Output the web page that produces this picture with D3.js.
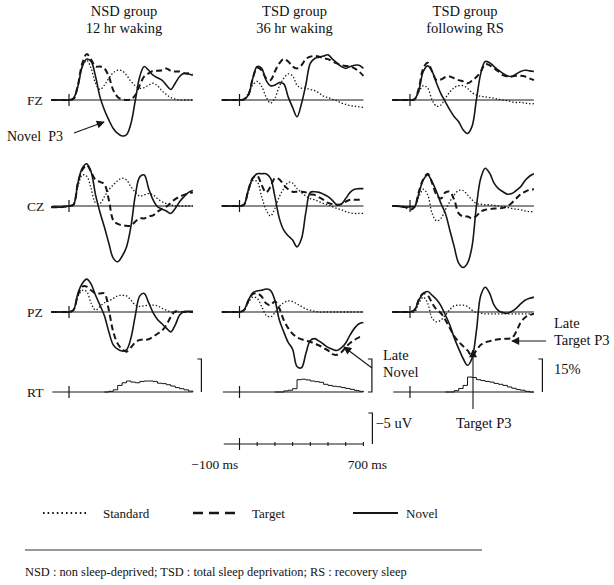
<!DOCTYPE html>
<html>
<head>
<meta charset="utf-8">
<script src="https://cdn.jsdelivr.net/npm/d3@7"></script>
<style>
  body { margin: 0; background: #fff; }
  svg text { font-family: "Liberation Serif", "Times New Roman", serif; fill: #111; white-space: pre; }
</style>
</head>
<body>
<svg id="chart" width="614" height="585"></svg>
<script>
// sample times (ms) for every waveform
var times = [-100,-75,-50,-25,0,25,50,75,100,125,150,175,200,225,250,275,300,325,350,375,400,425,450,475,500,525,550,575,600,625,650,675,700];

// waveforms in uV (negative plotted upward, as in the original)
var nsdFzStandard = [0,0,0,0, 0,-0.15,-2.15,-5.4,-6.4,-5.1,-2.7,-1.7,-2.4,-3.5, -4.4,-4.8,-4.7,-4.0,-3.0,-2.3,-1.9,-2.0,-2.4,-2.7, -2.3,-1.5,-0.9,-0.4,-0.15,0,0,0,0];
var nsdFzTarget   = [0,0,0,0, 0,-0.15,-2.4,-5.9,-7.4,-6.5,-5.4,-5.4,-5.1,-3.8, -1.6,-0.5,-0.1,0,-0.1,-0.8,-2.4,-3.8,-4.3,-4.7, -4.7,-4.8,-5.1,-4.7,-4.6,-4.6,-4.3,-4.3,-4.2];
var nsdFzNovel    = [0,0,0,0, 0,-0.3,-2.2,-5.4,-6.6,-6.2,-3.8,-0.5,1.6,3.2, 4.6,5.4,5.8,5.6,3.8,0,-3.8,-5.4,-4.8,-4.0, -3.6,-3.2,-2.4,-1.7,-2.7,-3.8,-4.3,-4.2,-4.0];

var nsdCzStandard = [0.1,0.1,0.1,0.1, 0,-0.2,-3.1,-5.0,-4.8,-2.8,-0.5,-0.4,-1.5,-2.6, -3.4,-4.1,-4.5,-4.2,-3.1,-2.2,-1.6,-1.8,-2.0,-1.8, -1.2,-0.7,-0.4,-0.2,0,0,0,0,0];
var nsdCzTarget   = [0.2,0.2,0.2,0.1, 0,-0.2,-3.7,-5.8,-6.6,-5.5,-4.2,-3.9,-3.5,-1.0, 2.3,2.9,3.1,3.2,3.2,2.5,2.0,2.0,1.7,1.5, 0.9,0.5,0.1,-0.5,-1.1,-1.5,-1.8,-2.0,-2.2];
var nsdCzNovel    = [0.2,0.2,0.2,0.1, 0,-0.2,-3.7,-6.1,-6.8,-5.5,-1.8,1.0,3.4,6.0, 8.4,9.0,8.1,6.6,3.3,-1.8,-4.7,-5.0,-2.8,-1.0, 0.1,0.5,0.8,1.2,0.4,-0.7,-1.5,-2.2,-2.5];

var nsdPzStandard = [0,0,0,0, 0,-0.3,-2.5,-3.5,-3.3,-1.4,-0.3,-0.9,-1.5,-1.8, -2.2,-2.6,-2.7,-2.6,-1.9,-1.1,-0.9,-1.0,-1.1,-1.1, -1.0,-0.6,-0.3,0,0,0,0,0,0];
var nsdPzTarget   = [0,0,0,0, 0,-0.3,-2.7,-4.1,-4.1,-3.5,-3.0,-3.0,-3.0,-0.3, 3.2,5.1,6.0,6.4,5.7,4.9,4.5,4.5,4.4,4.0, 3.5,3.0,2.1,0.8,-0.1,0,0,0,0];
var nsdPzNovel    = [0,0,0,0, 0,-0.3,-3.0,-4.6,-5.3,-4.5,-2.7,-1.1,0.6,3.2, 5.3,6.0,6.3,6.1,4.2,0.5,-2.6,-3.0,-1.5,0.1, 1.2,1.9,2.6,3.2,2.1,0.5,-0.1,-0.1,-0.1];

var tsdFzStandard = [0,0,0,0, 0,-0.1,-1.1,-2.4,-3.0,-2.2,-0.5,0.5,-0.3,-2.2, -3.5,-4.2,-3.9,-2.4,-1.9,-1.9,-1.7,-1.5,-1.1,-0.6, -0.4,-0.1,0.1,0.5,0.7,0.9,1.0,1.1,1.2];
var tsdFzTarget   = [0,0,0,0, 0,-0.1,-0.8,-3.5,-5.2,-4.8,-3.5,-3.2,-4.6,-5.9, -6.6,-6.2,-5.4,-5.1,-5.6,-6.6,-7.0,-7.1,-7.0,-6.7, -6.6,-6.2,-5.9,-5.6,-5.5,-5.4,-5.1,-4.6,-3.9];
var tsdFzNovel    = [0,0,0,0, 0,-0.1,-0.8,-3.5,-5.4,-5.1,-3.2,-2.3,-2.4,-2.8, -2.6,-0.5,1.2,2.7,0.6,-2.5,-5.9,-6.7,-6.9,-7.1, -7.3,-6.6,-6.0,-5.4,-5.1,-5.4,-5.6,-5.6,-5.1];

var tsdCzStandard = [0,0,0,0, 0,-0.2,-2.3,-4.1,-3.9,-1.5,0.6,1.6,0.4,-1.5, -2.8,-3.8,-3.7,-2.8,-2.2,-1.6,-1.2,-1.0,-0.7,-0.4, -0.2,0.1,0.4,0.6,0.9,1.1,1.2,1.2,1.2];
var tsdCzTarget   = [0,0,0,0, 0,-0.2,-2.6,-4.5,-4.9,-3.4,-2.2,-3.1,-4.5,-4.3, -3.4,-2.7,-2.3,-2.3,-2.3,-2.2,-1.9,-1.8,-1.4,-1.0, -0.5,-0.3,-0.2,-0.3,-0.7,-1.0,-1.0,-1.0,-1.0];
var tsdCzNovel    = [0,0,0,0, 0,-0.2,-2.6,-4.5,-5.2,-5.2,-5.2,-4.5,-1.5,2.0, 3.9,4.8,5.5,6.6,5.3,1.0,-2.2,-2.3,-2.2,-1.9, -1.5,-0.9,-0.2,-0.3,-1.2,-2.2,-2.7,-2.8,-2.8];

var tsdPzStandard = [0,0,0,0, 0,-0.2,-1.5,-2.4,-2.2,-0.9,0.5,0.8,0.1,-0.9, -1.5,-1.8,-1.7,-1.3,-0.9,-0.5,-0.3,-0.1,0,0, 0,0,0,0,0,0,0,0,0];
var tsdPzTarget   = [0,0,0,0, 0,-0.3,-1.8,-2.9,-3.0,-2.5,-1.4,-1.1,-1.7,-0.6, 1.3,2.6,3.5,4.1,4.4,4.6,4.8,5.1,5.4,5.8, 6.2,6.8,6.9,6.5,5.7,5.0,4.5,4.1,3.9];
var tsdPzNovel    = [0,0,0,0, 0,-0.3,-1.9,-3.1,-3.4,-3.5,-3.7,-3.5,-1.9,1.3, 3.2,4.9,6.0,8.8,9.0,6.7,4.6,4.3,4.7,5.2, 5.7,6.0,6.2,5.8,5.0,3.7,2.6,1.9,1.7];

var rsFzStandard  = [0,0,0,0, 0,-0.1,-1.3,-2.3,-1.9,0,1.0,0.8,-0.3,-1.3, -2.0,-2.3,-2.3,-1.9,-1.2,-0.8,-0.6,-0.5,-0.4,-0.3, -0.1,0,0.1,0.3,0.4,0.4,0.5,0.6,0.6];
var rsFzTarget    = [0,0,0,0, 0,-0.1,-1.9,-5.1,-6.0,-4.6,-3.2,-3.3,-3.7,-3.8, -3.5,-3.2,-3.0,-2.7,-3.1,-3.7,-4.6,-5.8,-5.6,-5.1, -4.6,-4.0,-3.8,-3.8,-3.9,-3.9,-3.8,-3.5,-3.2];
var rsFzNovel     = [0,0,0,0, 0,-0.1,-1.6,-4.6,-5.5,-4.6,-2.7,-1.0,0.3,1.6, 2.7,3.5,4.8,5.4,4.3,0,-4.3,-6.2,-6.0,-5.4, -4.8,-4.3,-3.9,-3.8,-4.2,-4.6,-4.8,-4.7,-4.6];

var rsCzStandard  = [0,0,0,0.1, 0.1,0,-1.5,-2.7,-1.8,1.2,2.4,2.0,0.6,-0.7, -1.8,-2.5,-2.5,-1.8,-1.0,-0.4,-0.3,-0.2,-0.2,-0.1, 0,0.1,0.2,0.4,0.5,0.6,0.8,0.9,0.9];
var rsCzTarget    = [0,0,0.1,0.2, 0.6,0.2,-2.3,-4.3,-5.2,-3.7,-1.8,-1.2,-2.2,-2.3, -1.0,1.2,1.7,1.7,2.0,1.6,0.9,0.6,0.5,0.4, 0.4,0.3,0,-0.5,-1.2,-1.9,-2.3,-2.6,-2.7];
var rsCzNovel     = [0,0,0.1,0.2, 0.1,0.1,-2.0,-4.2,-5.0,-3.9,-2.3,-0.4,1.2,3.9, 6.6,9.2,9.9,9.2,6.6,0.1,-4.5,-6.1,-5.3,-3.7, -2.8,-2.3,-1.9,-2.0,-2.5,-3.1,-4.1,-4.8,-5.2];

var rsPzStandard  = [0,0,0,0, 0,0,-1.4,-2.4,-1.4,1.0,1.6,1.3,0.5,-0.4, -1.0,-1.1,-1.1,-0.9,-0.3,0.1,0.2,0.3,0.3,0.3, 0.3,0.3,0.3,0.3,0.3,0.3,0.3,0.3,0.3];
var rsPzTarget    = [0,0,0,0, 0,-0.3,-2.0,-3.0,-2.7,-1.4,-0.4,0.2,1.3,2.6, 3.9,4.8,5.5,6.2,7.1,6.2,5.3,4.9,4.7,4.5, 4.4,4.3,4.3,4.2,3.2,1.7,0.9,0.5,0.3];
var rsPzNovel     = [0,0,0,0, 0,-0.3,-1.9,-3.0,-3.3,-2.7,-2.0,-1.0,0.5,2.1, 4.2,5.9,7.5,8.6,7.5,3.1,-2.7,-4.0,-3.0,-1.1, -0.2,0.1,0.2,-0.1,-0.6,-1.3,-1.9,-2.2,-2.4];

// reaction time histograms (% of responses per 25 ms bin)
var rtBins = [200,225,250,275,300,325,350,375,400,425,450,475,500,525,550,575,600,625,650,675,700];
var nsdRt = [0,0.3,1.0,3.0,4.2,5.0,4.5,4.2,4.8,5.0,5.0,4.8,4.0,3.8,3.3,2.7,2.0,1.5,1.0,0.4,0];
var tsdRt = [0,0,0.5,0.8,1.5,5.6,5.8,5.5,5.0,4.7,4.4,3.5,3.0,2.6,2.4,2.0,1.6,1.2,0.7,0.3,0];
var rsRt  = [0,0,0.6,1.6,3.0,6.8,6.6,5.6,5.2,4.8,4.5,3.9,3.5,3.0,2.3,1.7,1.1,0.8,0.3,0,0];

var groupTitles = [["NSD group", "12 hr waking"], ["TSD group", "36 hr waking"], ["TSD group", "following RS"]];
var sites = ["FZ", "CZ", "PZ"];
var conditions = ["Standard", "Target", "Novel"];
var scaleLabels = ["\u2212100 ms", "700 ms", "\u22125 uV", "15%"];
var footnote = "NSD : non sleep-deprived; TSD : total sleep deprivation; RS : recovery sleep";

var waves = [
    [[nsdFzStandard, nsdFzTarget, nsdFzNovel], [nsdCzStandard, nsdCzTarget, nsdCzNovel], [nsdPzStandard, nsdPzTarget, nsdPzNovel]],
    [[tsdFzStandard, tsdFzTarget, tsdFzNovel], [tsdCzStandard, tsdCzTarget, tsdCzNovel], [tsdPzStandard, tsdPzTarget, tsdPzNovel]],
    [[rsFzStandard, rsFzTarget, rsFzNovel], [rsCzStandard, rsCzTarget, rsCzNovel], [rsPzStandard, rsPzTarget, rsPzNovel]]
];
var rts = [nsdRt, tsdRt, rsRt];

// layout
var ink = "#161616";
var colZero = [69, 239.5, 410];     // x of stimulus onset in each column
var msPx = 0.177;                    // px per ms
var rowBase = [100, 206, 312];
var rtBase = 392;
var uvPx = 6.2;                      // px per uV
var styles = [
    { width: 1.3, dash: "1.4,2" },
    { width: 2, dash: "6,3.5" },
    { width: 1.6, dash: null }
];

var svg = d3.select("#chart");

var defs = svg.append("defs");
defs.append("marker")
    .attr("id", "head")
    .attr("viewBox", "0 0 10 10")
    .attr("refX", 9).attr("refY", 5)
    .attr("markerWidth", 10).attr("markerHeight", 8)
    .attr("markerUnits", "userSpaceOnUse")
    .attr("orient", "auto")
    .append("path")
    .attr("d", "M0,0L10,5L0,10Z")
    .attr("fill", ink);

function xFor(c) {
    return d3.scaleLinear().domain([-100, 700])
        .range([colZero[c] - 100 * msPx, colZero[c] + 700 * msPx]);
}
function yFor(base) {
    return d3.scaleLinear().domain([-5, 5]).range([base - 5 * uvPx, base + 5 * uvPx]);
}
var rtY = d3.scaleLinear().domain([0, 15]).range([rtBase, rtBase - 33]);

function baseline(g, x, y0) {
    g.append("line")
        .attr("x1", x(-100) + 1).attr("x2", x(700))
        .attr("y1", y0).attr("y2", y0)
        .attr("stroke", ink).attr("stroke-width", 1.1);
    g.append("line")
        .attr("x1", x(0)).attr("x2", x(0))
        .attr("y1", y0 - 6).attr("y2", y0 + 6)
        .attr("stroke", ink).attr("stroke-width", 1.2);
}

for (var c = 0; c < 3; c++) {
    var x = xFor(c);
    var g = svg.append("g");

    // titles
    g.selectAll("text.title")
        .data(groupTitles[c])
        .enter().append("text")
        .attr("class", "title")
        .attr("x", colZero[c] + 55)
        .attr("y", function (d, i) { return 16 + i * 17; })
        .attr("text-anchor", "middle")
        .style("font-size", "14.5px")
        .text(function (d) { return d; });

    for (var r = 0; r < 3; r++) {
        var y = yFor(rowBase[r]);
        baseline(g, x, rowBase[r]);
        var line = d3.line()
            .x(function (d, i) { return x(times[i]); })
            .y(function (d) { return y(d); })
            .curve(d3.curveCatmullRom.alpha(0.5));
        g.selectAll("path.w" + r)
            .data(waves[c][r])
            .enter().append("path")
            .attr("class", "w" + r)
            .attr("d", line)
            .attr("fill", "none")
            .attr("stroke", ink)
            .attr("stroke-linejoin", "round")
            .attr("stroke-width", function (d, i) { return styles[i].width; })
            .attr("stroke-dasharray", function (d, i) { return styles[i].dash; });
    }

    // RT histogram
    baseline(g, x, rtBase);
    var step = d3.line()
        .x(function (d, i) { return x(rtBins[i]); })
        .y(function (d) { return rtY(d); })
        .curve(d3.curveStepAfter);
    g.append("path")
        .attr("d", step(rts[c]))
        .attr("fill", "none")
        .attr("stroke", ink)
        .attr("stroke-width", 1);

    // 15% bracket
    var bx = x(700) + 8.5;
    g.append("path")
        .attr("d", "M" + (bx - 4) + "," + rtY(15) + "H" + bx + "V" + rtY(0) + (c === 1 ? "H" + (bx - 4) : ""))
        .attr("fill", "none")
        .attr("stroke", ink)
        .attr("stroke-width", 1.2);
}

// row labels
svg.selectAll("text.site")
    .data(sites.concat(["RT"]))
    .enter().append("text")
    .attr("class", "site")
    .attr("x", 27)
    .attr("y", function (d, i) { return (i < 3 ? rowBase[i] : rtBase) + 5; })
    .style("font-size", "13.5px")
    .text(function (d) { return d; });

// time and amplitude scale under the middle column
var xs = xFor(1);
var sy = 444;
var sg = svg.append("g");
sg.append("line")
    .attr("x1", xs(-100) + 2).attr("x2", xs(700))
    .attr("y1", sy).attr("y2", sy)
    .attr("stroke", ink).attr("stroke-width", 1.1);
sg.selectAll("line.tick")
    .data([0, 100, 200, 300, 400, 500, 600, 700])
    .enter().append("line")
    .attr("class", "tick")
    .attr("x1", function (d) { return xs(d); })
    .attr("x2", function (d) { return xs(d); })
    .attr("y1", function (d) { return d === 0 ? sy - 6 : sy - 2; })
    .attr("y2", function (d) { return d === 0 ? sy + 6 : sy + 2; })
    .attr("stroke", ink).attr("stroke-width", 1.1);
sg.append("text").attr("x", xs(-100) - 7).attr("y", sy + 25)
    .attr("text-anchor", "middle").style("font-size", "13.5px").text(scaleLabels[0]);
sg.append("text").attr("x", xs(700) + 4).attr("y", sy + 25)
    .attr("text-anchor", "middle").style("font-size", "13.5px").text(scaleLabels[1]);
var uy = yFor(sy);
sg.append("path")
    .attr("d", "M" + (xs(700) + 5) + "," + uy(-5) + "H" + (xs(700) + 9) + "V" + uy(0))
    .attr("fill", "none").attr("stroke", ink).attr("stroke-width", 1.2);
sg.append("text").attr("x", xs(700) + 12).attr("y", uy(-5) + 15)
    .style("font-size", "14.5px").text(scaleLabels[2]);

// annotations
function arrow(x1, y1, x2, y2) {
    svg.append("line")
        .attr("x1", x1).attr("y1", y1).attr("x2", x2).attr("y2", y2)
        .attr("stroke", ink).attr("stroke-width", 1.1)
        .attr("marker-end", "url(#head)");
}
function label(lines, lx, ly, size) {
    svg.selectAll(null)
        .data(lines)
        .enter().append("text")
        .attr("x", lx)
        .attr("y", function (d, i) { return ly + i * 17; })
        .style("font-size", (size || 14.5) + "px")
        .text(function (d) { return d; });
}
label(["Novel  P3"], 7, 141, 14);
arrow(74, 133, 104, 122);

label(["Late", "Novel"], 383, 360);
arrow(372, 368, 344, 347);

label(["Late", "Target P3"], 554, 328);
arrow(546, 341, 512, 341);

label([scaleLabels[3]], 554, 374);

svg.append("line")
    .attr("x1", 473).attr("x2", 473).attr("y1", 409).attr("y2", 350)
    .attr("stroke", ink).attr("stroke-width", 1.1)
    .attr("marker-end", "url(#head)");
label(["Target P3"], 456, 428);

// legend
var legendX = [[43, 88], [193, 235], [353, 398]];
var legendTextX = [103, 252, 406];
var ly = 513;
var lg = svg.append("g");
lg.selectAll("line")
    .data(conditions)
    .enter().append("line")
    .attr("x1", function (d, i) { return legendX[i][0]; })
    .attr("x2", function (d, i) { return legendX[i][1]; })
    .attr("y1", ly).attr("y2", ly)
    .attr("stroke", ink)
    .attr("stroke-width", function (d, i) { return [1.8, 2.4, 2][i]; })
    .attr("stroke-dasharray", function (d, i) { return ["1.6,3", "10,6", null][i]; });
lg.selectAll("text")
    .data(conditions)
    .enter().append("text")
    .attr("x", function (d, i) { return legendTextX[i]; })
    .attr("y", ly + 5)
    .style("font-size", "13px")
    .text(function (d) { return d; });

// rule and footnote
svg.append("line")
    .attr("x1", 25).attr("x2", 482).attr("y1", 550).attr("y2", 550)
    .attr("stroke", "#333").attr("stroke-width", 1);
svg.append("text")
    .attr("x", 25).attr("y", 576)
    .style("font-size", "12.4px")
    .text(footnote);
</script>
</body>
</html>
